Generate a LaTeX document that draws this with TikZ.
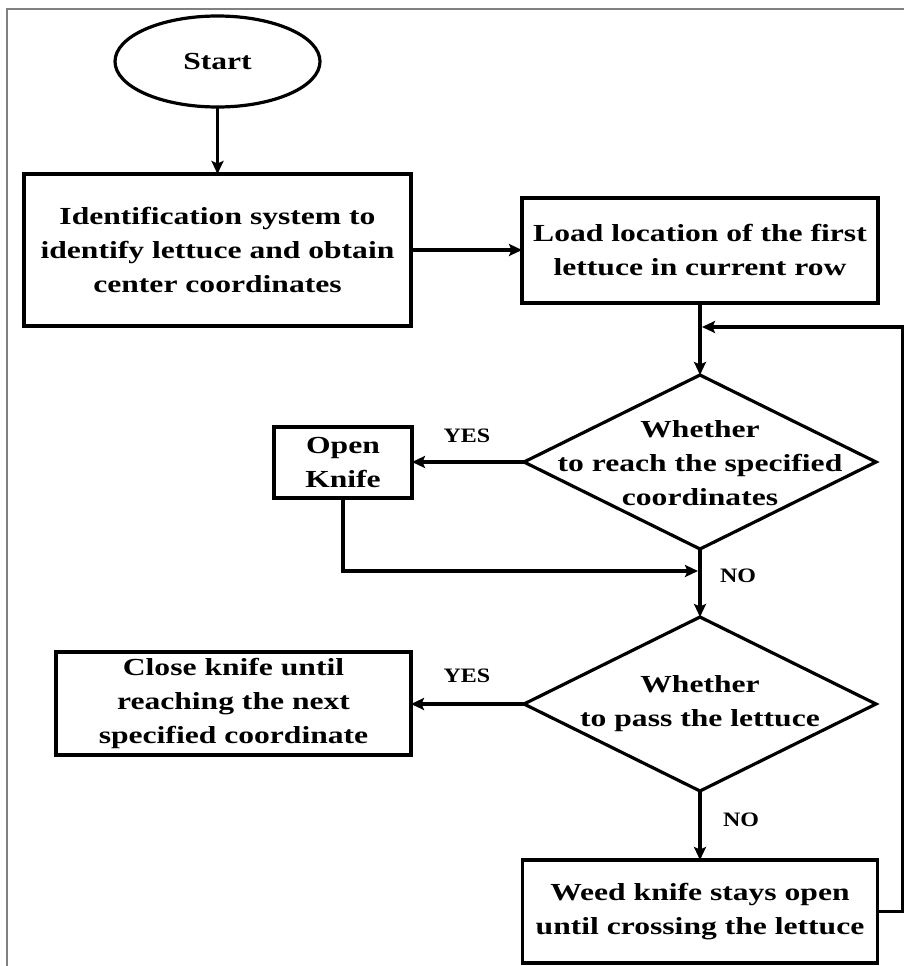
\documentclass[tikz,border=0pt]{standalone}
\usepackage{fontspec}
\setmainfont{Liberation Serif}[FakeStretch=1.29]
\newfontfamily\lblfont{Liberation Serif}[FakeStretch=1.17]
\usetikzlibrary{shapes.geometric,arrows.meta}
\begin{document}
\begin{tikzpicture}[x=1pt,y=-1pt,
  every node/.style={inner sep=0pt,outer sep=0pt},
  txt/.style={align=center,font=\fontsize{24.5}{34}\selectfont\bfseries},
  boxnode/.style={draw,line width=3.4pt,rectangle,txt},
  dianode/.style={draw,line width=3.2pt,diamond,minimum width=352pt,minimum height=174pt},
  startnode/.style={draw,line width=3.2pt,ellipse,minimum width=205pt,minimum height=91pt,txt},
  lbl/.style={font=\lblfont\fontsize{20.5}{24}\selectfont\bfseries},
  arr/.style={line width=3.5pt,-{Stealth[length=13pt,width=12pt,inset=2.5pt]}},
  ln/.style={line width=3.5pt}]
\useasboundingbox (0,0) rectangle (904,966);
\draw[gray,line width=1.3pt] (7,966) -- (7,9) -- (904,9);
% nodes
\node[startnode] (st) at (217.5,61.5) {Start};
\node[boxnode,minimum width=387pt,minimum height=152pt] (b1) at (217.5,250) {Identification system to\\identify lettuce and obtain\\center coordinates};
\node[boxnode,minimum width=356pt,minimum height=105pt] (b2) at (700,250.5) {Load location of the first\\lettuce in current row};
\node[dianode] (d1) at (700,462) {};
\node[txt] (d1t) at (700,463) {Whether\\to reach the specified\\coordinates};
\node[boxnode,minimum width=138pt,minimum height=71pt] (ok) at (343,462.5) {Open\\Knife};
\node[dianode] (d2) at (700,704) {};
\node[txt] (d2t) at (700,704) {Whether\\to pass the lettuce};
\node[boxnode,minimum width=355pt,minimum height=103pt] (b3) at (233.5,703.5) {Close knife until\\reaching the next\\specified coordinate};
\node[boxnode,minimum width=355pt,minimum height=103pt] (b4) at (700,911.5) {Weed knife stays open\\until crossing the lettuce};
\node[lbl] (y1) at (467,436) {YES};
\node[lbl] (n1) at (738,576) {NO};
\node[lbl] (y2) at (467,676) {YES};
\node[lbl] (n2) at (741,820) {NO};
\coordinate (j1) at (698,571);
\coordinate (fb) at (702,327);
% connectors
\draw[arr] (st) -- (b1);
\draw[arr] (b1.east) -- (b2.west |- b1.east);
\draw[arr] (b2.south) -- (d1.north);
\draw[arr] (d1.west) -- (ok.east |- d1.west);
\draw[arr] (ok.south) |- (j1);
\draw[arr] (d1.south) -- (d2.north);
\draw[arr] (d2.west) -- (b3.east |- d2.west);
\draw[arr] (d2.south) -- (b4.north);
\draw[arr] (b4.east) -- ++(25,0) |- (fb);
\end{tikzpicture}
\end{document}
